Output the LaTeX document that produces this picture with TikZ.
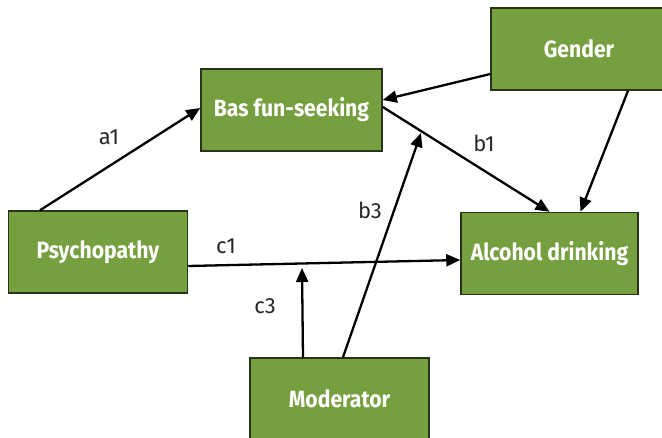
\documentclass[tikz,border=0pt]{standalone}
\usepackage{fontspec}
\setmainfont{Fira Sans}
\newfontfamily\boxfont[FakeStretch=0.9]{Fira Sans}
\usetikzlibrary{arrows.meta}
\definecolor{boxgreen}{HTML}{76A040}
\definecolor{boxline}{HTML}{27341A}
\tikzset{
  var/.style={draw=boxline, fill=boxgreen, line width=1.5pt, text=white,
    font=\boxfont\bfseries\fontsize{23.5}{28}\selectfont,
    minimum width=178pt, minimum height=82pt, inner sep=0pt},
  path/.style={line width=2.3pt, -{Triangle[length=14pt, width=12pt]}},
  lbl/.style={font=\fontsize{22}{26}\selectfont, text=black!85}
}
\begin{document}
\begin{tikzpicture}[x=1pt, y=-1pt]
  \useasboundingbox (0,0) rectangle (662,438);
  \node[var, minimum width=181pt] (bas) at (291.5,110) {Bas fun-seeking};
  \node[var, minimum width=176pt] (gen) at (579,49) {Gender};
  \node[var, minimum width=179pt] (psy) at (98,252) {Psychopathy};
  \node[var, minimum width=177pt] (alc) at (549.5,253.5) {Alcohol drinking};
  \node[var, minimum width=179pt] (mod) at (339.5,399) {Moderator};
  \coordinate (onc) at (302,268);
  \coordinate (onb) at (421,133);
  \draw[path] ([xshift=-58pt]psy.north) -- ([yshift=2pt]bas.west);
  \draw[path] ([yshift=-25pt]gen.west) -- ([yshift=10pt]bas.east);
  \draw[path] ([yshift=3pt]bas.east) -- (alc.north);
  \draw[path] ([xshift=49pt]gen.south) -- ([xshift=31pt]alc.north);
  \draw[path] ([yshift=-14pt]psy.east) -- ([yshift=-6.5pt]alc.west);
  \draw[path] ([xshift=-36.5pt]mod.north) -- (onc);
  \draw[path] ([xshift=3.5pt]mod.north) -- (onb);
  \node[lbl] (a1) at (109,137) {a1};
  \node[lbl] (b1) at (484,143) {b1};
  \node[lbl] (c1) at (226,246) {c1};
  \node[lbl] (c3) at (265,306) {c3};
  \node[lbl] (b3) at (370,210) {b3};
\end{tikzpicture}
\end{document}
